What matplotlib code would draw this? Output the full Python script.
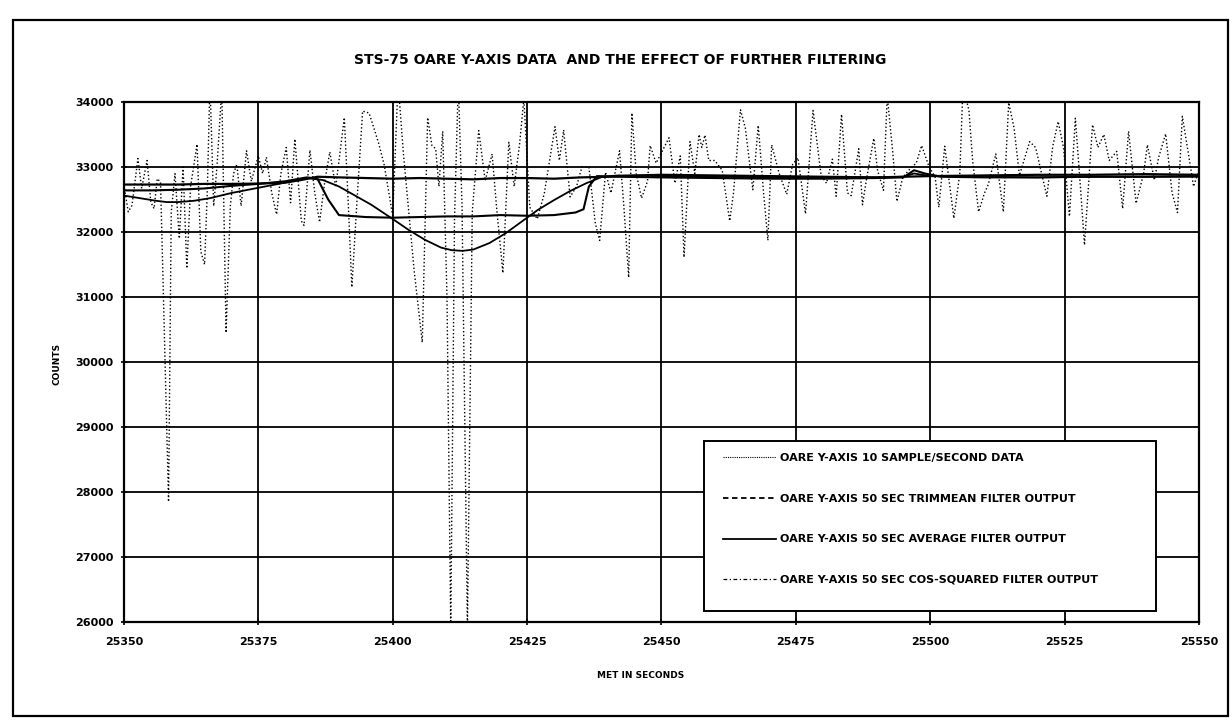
import matplotlib
matplotlib.use('Agg')
import matplotlib.pyplot as plt
from matplotlib.lines import Line2D
from matplotlib.patches import Rectangle

raw_t = [25350.0, 25350.8, 25351.5, 25352.6, 25353.3, 25354.3, 25355.0, 25355.6, 25356.2, 25356.8,
         25357.2, 25358.3, 25358.8, 25359.5, 25360.3, 25361.0, 25361.7, 25362.4, 25363.6, 25364.3,
         25365.0, 25365.5, 25366.0, 25366.7, 25367.3, 25368.2, 25369.0, 25369.8, 25370.4, 25371.0,
         25371.8, 25372.8, 25373.7, 25375.0, 25375.8, 25376.5, 25377.5, 25378.4, 25379.2, 25380.2,
         25381.0, 25381.8, 25383.0, 25383.5, 25384.6, 25385.5, 25386.4, 25387.4, 25388.3, 25389.4,
         25391.0, 25391.7, 25392.4, 25393.3, 25394.4, 25395.6, 25396.5, 25397.4, 25398.4, 25399.2,
         25400.0, 25401.0, 25402.0, 25403.0, 25404.0, 25405.5, 25406.5, 25407.3, 25408.0, 25408.6,
         25409.3, 25410.1, 25410.8, 25411.5, 25412.2, 25412.9, 25413.9, 25414.8, 25416.0, 25417.2,
         25418.5, 25419.3, 25420.5, 25421.6, 25422.6, 25423.6, 25424.4, 25425.5, 25426.9, 25428.2,
         25430.2, 25431.0, 25431.8, 25433.0, 25434.2, 25435.2, 25436.5, 25437.7, 25438.5, 25439.6,
         25440.6, 25442.2, 25443.0, 25443.9, 25444.5, 25445.3, 25446.3, 25447.4, 25447.9, 25449.0,
         25450.0, 25451.4, 25452.5, 25453.5, 25454.2, 25455.3, 25456.2, 25457.0, 25457.5, 25458.1,
         25458.8, 25459.9, 25461.3, 25462.7, 25463.4, 25464.7, 25465.6, 25467.0, 25468.0, 25469.0,
         25469.8, 25470.5, 25471.9, 25473.3, 25474.4, 25475.4, 25476.8, 25478.2, 25479.7, 25480.7,
         25481.8, 25482.5, 25483.5, 25484.6, 25485.3, 25486.7, 25487.4, 25488.1, 25489.5, 25490.2,
         25491.3, 25492.0, 25493.0, 25493.8, 25494.9, 25496.0, 25497.4, 25498.4, 25499.8, 25500.9,
         25501.6, 25502.7, 25504.4, 25505.5, 25506.1, 25507.2, 25507.9, 25509.0, 25510.1, 25510.8,
         25512.2, 25513.6, 25514.6, 25515.6, 25516.6, 25518.5, 25519.6, 25521.7, 25522.8, 25523.8,
         25524.8, 25525.9, 25527.0, 25528.0, 25528.7, 25530.2, 25531.2, 25532.3, 25533.3, 25534.7,
         25535.8, 25536.9, 25538.3, 25539.7, 25540.4, 25541.7, 25542.5, 25543.8, 25545.0, 25546.0,
         25546.9, 25548.1, 25549.0, 25550.0]
raw_v = [32720, 32310, 32410, 33130, 32670, 33100, 32460, 32360, 32820, 32770,
         31500, 27850, 32300, 32900, 31900, 33000, 31440, 32700, 33350, 31700,
         31500, 32600, 34300, 32400, 33000, 34200, 30450, 32400, 32900, 33040,
         32400, 33250, 32780, 33170, 32900, 33150, 32600, 32270, 32900, 33300,
         32450, 33430, 32170, 32100, 33260, 32600, 32150, 32800, 33230, 32690,
         33760, 32500, 31150, 32400, 33860, 33830, 33600, 33360, 33040, 32650,
         32250, 34300, 33200, 32300, 31400, 30300, 33760, 33330, 33280, 32700,
         33550, 31000, 25900, 32200, 34300, 32400, 25900, 32300, 33560, 32790,
         33200, 32400, 31370, 33380, 32700, 33350, 34050, 32380, 32200, 32590,
         33620, 33100, 33570, 32540, 32700, 33000, 33000, 32130, 31870, 32920,
         32600, 33250, 32400, 31300, 33830, 32900, 32520, 32780, 33330, 33060,
         33220, 33450, 32750, 33170, 31610, 33390, 32900, 33500, 33300, 33490,
         33100, 33100, 32950, 32170, 32600, 33880, 33600, 32650, 33640, 32600,
         31870, 33340, 32900, 32580, 33040, 33140, 32280, 33870, 32870, 32750,
         33120, 32550, 33810, 32600, 32560, 33280, 32420, 32790, 33440, 32950,
         32640, 34100, 33250, 32470, 32840, 32950, 33060, 33330, 33000, 32850,
         32380, 33320, 32210, 32900, 34250, 33870, 33090, 32310, 32600, 32730,
         33200, 32310, 33990, 33600, 32870, 33390, 33300, 32550, 33320, 33700,
         33300, 32240, 33750, 32630, 31800, 33650, 33300, 33500, 33100, 33240,
         32360, 33550, 32440, 32900, 33340, 32800, 33150, 33510, 32600, 32300,
         33780, 33170, 32700, 32960]

# 50 sec trimmean filter output
trim_t = [25350, 25355, 25360, 25365, 25370, 25375, 25380, 25383, 25386, 25390, 25395, 25400,
          25405, 25410, 25415, 25420, 25425, 25430, 25435, 25440, 25445, 25450, 25460, 25470,
          25480, 25490, 25495, 25500, 25510, 25520, 25530, 25540, 25550]
trim_v = [32730, 32730, 32730, 32740, 32740, 32745, 32760, 32800, 32850, 32840, 32830, 32820,
          32830, 32820, 32810, 32830, 32830, 32820, 32840, 32850, 32870, 32880, 32870, 32860,
          32850, 32840, 32850, 32860, 32870, 32880, 32880, 32890, 32880]

# 50 sec average filter output
avg_t = [25350, 25355, 25360, 25365, 25370, 25375, 25380, 25384, 25386, 25388, 25390, 25395,
         25400, 25405, 25410, 25415, 25420, 25425, 25430, 25434, 25435.5, 25436.5, 25438, 25442,
         25450, 25460, 25470, 25480, 25490, 25495, 25497, 25499, 25502, 25510, 25520, 25530,
         25540, 25550]
avg_v = [32640, 32640, 32650, 32670, 32710, 32740, 32780, 32840, 32820, 32500, 32260, 32230,
         32220, 32230, 32240, 32240, 32260, 32250, 32260, 32300, 32350, 32700, 32860, 32850,
         32840, 32830, 32820, 32820, 32830, 32840, 32950, 32900, 32850, 32840, 32840, 32850,
         32850, 32860]

# 50 sec cos-squared filter output
cos_t = [25350, 25353, 25356, 25358, 25360, 25363, 25366, 25370, 25375, 25380, 25384, 25387,
         25390, 25393, 25396, 25400, 25403, 25406, 25409, 25411, 25413, 25415, 25418, 25421,
         25424, 25427, 25430, 25433, 25436, 25439, 25442, 25450, 25460, 25470, 25480, 25490,
         25495, 25497, 25500, 25510, 25520, 25530, 25540, 25550]
cos_v = [32560, 32520, 32480, 32460, 32460, 32480, 32520, 32600, 32680, 32760, 32830, 32800,
         32700, 32560, 32420, 32200, 32030, 31880, 31760, 31720, 31710, 31730, 31830, 31980,
         32160, 32340, 32490, 32630, 32750, 32850, 32870, 32860, 32850, 32840, 32840, 32840,
         32850, 32900, 32860, 32850, 32840, 32850, 32850, 32850]

x_ticks = list(range(25350, 25551, 25))
y_ticks = list(range(26000, 34001, 1000))
labels = ['OARE Y-AXIS 10 SAMPLE/SECOND DATA',
          'OARE Y-AXIS 50 SEC TRIMMEAN FILTER OUTPUT',
          'OARE Y-AXIS 50 SEC AVERAGE FILTER OUTPUT',
          'OARE Y-AXIS 50 SEC COS-SQUARED FILTER OUTPUT']

plt.rcParams['font.family'] = 'DejaVu Sans'
plt.rcParams['font.weight'] = 'bold'

fig = plt.figure(figsize=(12.32, 7.28), dpi=100)
fig.patches.append(Rectangle((0.0106, 0.0165), 0.986, 0.956, transform=fig.transFigure,
                             fill=False, edgecolor='black', linewidth=1.6))
ax = fig.add_axes([0.1006, 0.1456, 0.8726, 0.7143])

ax.plot(raw_t, raw_v, color='black', linestyle=':', linewidth=1.0, zorder=3)
ax.plot(trim_t, trim_v, color='black', linewidth=1.6, zorder=4)
ax.plot(avg_t, avg_v, color='black', linewidth=1.5, zorder=4)
ax.plot(cos_t, cos_v, color='black', linewidth=1.3, zorder=4)

ax.set_xlim(25350, 25550)
ax.set_ylim(26000, 34000)
ax.set_xticks(x_ticks)
ax.set_yticks(y_ticks)
ax.set_xticklabels([str(t) for t in x_ticks])
ax.set_yticklabels([str(t) for t in y_ticks])
ax.tick_params(axis='both', direction='inout', length=5, width=1.2, labelsize=8, colors='black')
ax.tick_params(axis='x', pad=8)
ax.tick_params(axis='y', pad=5)
ax.grid(True, color='black', linewidth=1.3)
ax.set_axisbelow(True)
for s in ax.spines.values():
    s.set_linewidth(1.6)

# legend box sits on the gridlines
ax.add_patch(Rectangle((0.540, 0.021), 0.420, 0.327, transform=ax.transAxes,
                       facecolor='white', edgecolor='black', linewidth=1.4, zorder=5))
handles = [Line2D([], [], color='black', linestyle=(0, (1, 1)), linewidth=0.8),
           Line2D([], [], color='black', linestyle=(0, (3, 2)), linewidth=1.3),
           Line2D([], [], color='black', linestyle='-', linewidth=1.3),
           Line2D([], [], color='black', linestyle=(0, (3, 2, 1, 2)), linewidth=0.9)]
leg = ax.legend(handles, labels, loc='upper left', bbox_to_anchor=(0.553, 0.333),
                frameon=False, fontsize=8, handlelength=4.8, handletextpad=0.35,
                labelspacing=2.75, borderpad=0.4, borderaxespad=0)
leg.set_zorder(6)

fig.text(0.503, 0.918, 'STS-75 OARE Y-AXIS DATA  AND THE EFFECT OF FURTHER FILTERING',
         ha='center', va='center', fontsize=10, fontweight='bold')
fig.text(0.046, 0.50, 'COUNTS', rotation=90, ha='center', va='center', fontsize=6.5,
         fontweight='bold')
fig.text(0.52, 0.072, 'MET IN SECONDS', ha='center', va='center', fontsize=6.5,
         fontweight='bold')

fig.savefig('out.png', dpi=100)
